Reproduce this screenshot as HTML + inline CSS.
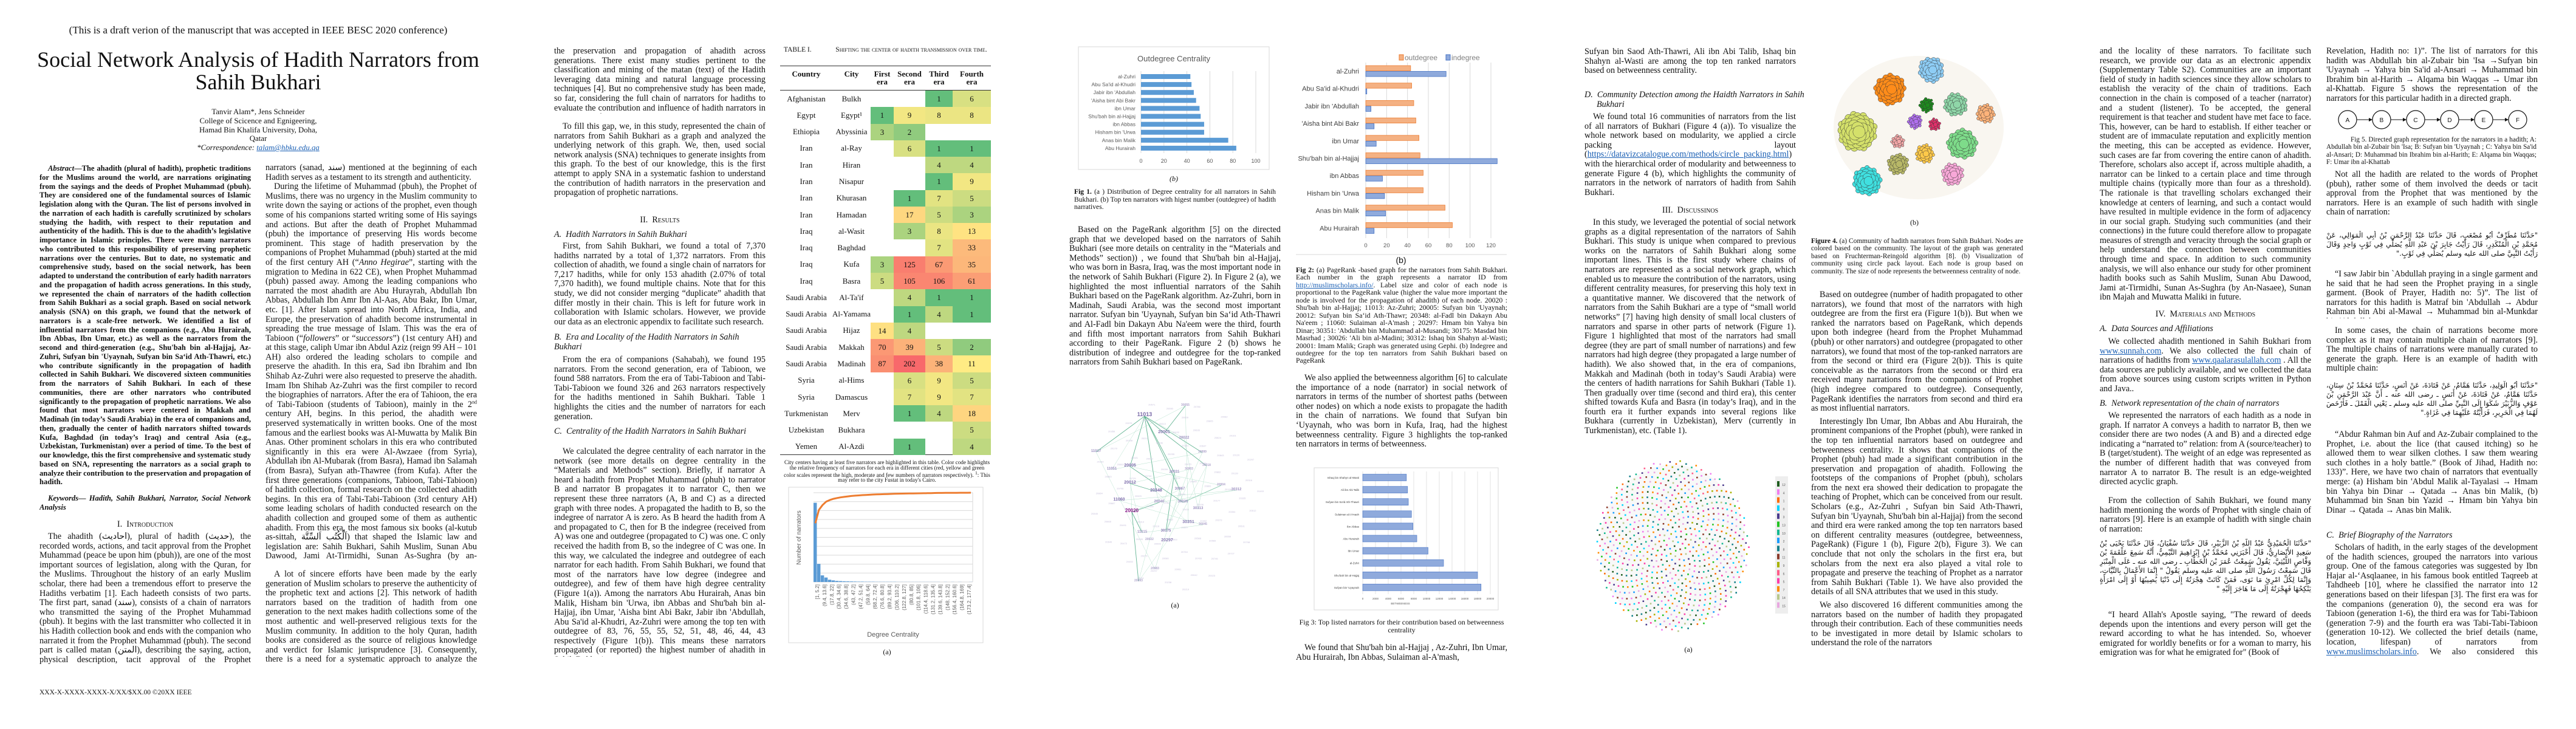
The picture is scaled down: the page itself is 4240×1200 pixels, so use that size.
<!DOCTYPE html>
<html><head><meta charset="utf-8">
<style>
html,body{margin:0;padding:0}
body{width:4240px;height:1200px;position:relative;overflow:hidden;background:#fff;color:#111;font-family:"Liberation Serif","DejaVu Sans",serif}
.t{position:absolute;font-size:14.2px;line-height:15.6px;text-align:justify;overflow:hidden;width:348px}
.t p{margin:0;text-indent:14px}
.cap{position:absolute;font-size:11.6px;line-height:12.5px;text-align:justify;overflow:hidden}
.h{position:absolute;font-size:14.2px;text-align:center;font-variant:small-caps;width:348px;line-height:16px}
.sub{position:absolute;font-size:14.2px;font-style:italic;line-height:15.6px;width:348px}
.ar{direction:rtl;font-family:"DejaVu Sans",sans-serif;font-size:11.5px;line-height:15px;text-align:justify}
a{color:#1a5fb4;text-decoration:underline}
.lbl{position:absolute;font-size:14px;text-align:center}
#tbl div{position:absolute;font-size:13px;text-align:center}
</style></head>
<body>

<!-- PAGE 1 -->
<div style="position:absolute;left:0;width:850px;top:40px;text-align:center;font-size:17px">(This is a draft verion of the manuscript that was accepted in IEEE BESC 2020 conference)</div>
<div style="position:absolute;left:20px;width:810px;top:80px;text-align:center;font-size:36px;line-height:37px">Social Network Analysis of Hadith Narrators from Sahih Bukhari</div>
<div style="position:absolute;left:275px;width:300px;top:177px;text-align:center;font-size:12.8px;line-height:14.8px">Tanvir Alam*, Jens Schneider<br>College of Scicence and Egnigeering,<br>Hamad Bin Khalifa University, Doha,<br>Qatar<br><i>*Correspondence: <a>talam@hbku.edu.qa</a></i></div>

<div class="t" style="left:65px;top:270px;height:530px;font-weight:bold;font-size:12.5px;line-height:14.75px"><p><i>Abstract</i>—The ahadith (plural of hadith), prophetic traditions for the Muslims around the world, are narrations originating from the sayings and the deeds of Prophet Muhammad (pbuh). They are considered one of the fundamental sources of Islamic legislation along with the Quran. The list of persons involved in the narration of each hadith is carefully scrutinized by scholars studying the hadith, with respect to their reputation and authenticity of the hadith. This is due to the ahadith’s legislative importance in Islamic principles. There were many narrators who contributed to this responsibility of preserving prophetic narrations over the centuries. But to date, no systematic and comprehensive study, based on the social network, has been adapted to understand the contribution of early hadith narrators and the propagation of hadith across generations. In this study, we represented the chain of narrators of the hadith collection from Sahih Bukhari as a social graph. Based on social network analysis (SNA) on this graph, we found that the network of narrators is a scale-free network. We identified a list of influential narrators from the companions (e.g., Abu Hurairah, Ibn Abbas, Ibn Umar, etc.) as well as the narrators from the second and third-generation (e.g., Shu'bah bin al-Hajjaj, Az-Zuhri, Sufyan bin 'Uyaynah, Sufyan bin Sa‘id Ath-Thawri, etc.) who contribute significantly in the propagation of hadith collected in Sahih Bukhari. We discovered sixteen communities from the narrators of Sahih Bukhari. In each of these communities, there are other narrators who contributed significantly to the propagation of prophetic narrations. We also found that most narrators were centered in Makkah and Madinah (in today’s Saudi Arabia) in the era of companions and, then, gradually the center of hadith narrators shifted towards Kufa, Baghdad (in today’s Iraq) and central Asia (e.g., Uzbekistan, Turkmenistan) over a period of time. To the best of our knowledge, this the first comprehensive and systematic study based on SNA, representing the narrators as a social graph to analyze their contribution to the preservation and propagation of hadith.</p></div>
<div class="t" style="left:65px;top:813px;height:32px;font-weight:bold;font-style:italic;font-size:12.5px;line-height:15px"><p>Keywords— Hadith, Sahih Bukhari, Narrator, Social Network Analysis</p></div>
<div class="h" style="left:65px;top:855px">I.&nbsp;&nbsp;Introduction</div>
<div class="t" style="left:65px;top:876px;height:218px"><p>The ahadith (أحاديث), plural of hadith (حديث), the recorded words, actions, and tacit approval from the Prophet Muhammad (peace be upon him (pbuh)), are one of the most important sources of legislation, along with the Quran, for the Muslims. Throughout the history of an early Muslim scholar, there had been a tremendous effort to preserve the Hadiths verbatim [1]. Each hadeeth consists of two parts. The first part, sanad (سند), consists of a chain of narrators who transmitted the saying of the Prophet Muhammad (pbuh). It begins with the last transmitter who collected it in his Hadith collection book and ends with the companion who narrated it from the Prophet Muhammad (pbuh). The second part is called matan (المتن), describing the saying, action, physical description, tacit approval of the Prophet Muhammad (pbuh). The chain of narrators and so on and so forth here.</p></div>
<div style="position:absolute;left:65px;top:1134px;font-size:11.5px">XXX-X-XXXX-XXXX-X/XX/$XX.00 ©20XX IEEE</div>

<div class="t" style="left:437px;top:269px;height:656px"><p style="text-indent:0">narrators (sanad, سند) mentioned at the beginning of each Hadith serves as a testament to its strength and authenticity.</p><p>During the lifetime of Muhammad (pbuh), the Prophet of Muslims, there was no urgency in the Muslim community to write down the saying or actions of the prophet, even though some of his companions started writing some of His sayings and actions. But after the death of Prophet Muhammad (pbuh) the importance of preserving His words become prominent. This stage of hadith preservation by the companions of Prophet Muhammad (pbuh) started at the mid of the first century AH (“<i>Anno Hegirae</i>”, starting with the migration to Medina in 622 CE), when Prophet Muhammad (pbuh) passed away. Among the leading companions who narrated the most ahadith are Abu Hurayrah, Abdullah Ibn Abbas, Abdullah Ibn Amr Ibn Al-Aas, Abu Bakr, Ibn Umar, etc. [1]. After Islam spread into North Africa, India, and Europe, the preservation of ahadith become instrumental in spreading the true message of Islam. This was the era of Tabioon (“<i>followers</i>” or “<i>successors</i>”) (1st century AH) and at this stage, caliph Umar ibn Abdul Aziz (reign 99 AH – 101 AH) also ordered the leading scholars to compile and preserve the ahadith. In this era, Sad ibn Ibrahim and Ibn Shihab Az-Zuhri were also requested to preserve the ahadith. Imam Ibn Shihab Az-Zuhri was the first compiler to record the biographies of narrators. After the era of Tahioon, the era of Tabi-Tabioon (students of Tabioon), mainly in the 2<sup style="font-size:8px;line-height:0">nd</sup> century AH, begins. In this period, the ahadith were preserved systematically in written books. One of the most famous and the earliest books was Al-Muwatta by Malik Bin Anas. Other prominent scholars in this era who contributed significantly in this era were Al-Awzaee (from Syria), Abdullah ibn Al-Mubarak (from Basra), Hamad ibn Salamah (from Basra), Sufyan ath-Thawree (from Kufa). After the first three generations (companions, Tabioon, Tabi-Tabioon) of hadith collection, formal research on the collected ahadith begins. In this era of Tabi-Tabi-Tabioon (3rd century AH) some leading scholars of hadith conducted research on the ahadith collection and grouped some of them as authentic ahadith. From this era, the most famous six books (al-kutub as-sittah, اَلْكُتُب اَلسِّتَّة) that shaped the Islamic law and legislation are: Sahih Bukhari, Sahih Muslim, Sunan Abu Dawood, Jami At-Tirmidhi, Sunan As-Sughra (by an-Nasaee), and either Ibn-Majah or Muwatta Malik.</p></div>
<div class="t" style="left:437px;top:938px;height:156px"><p>A lot of sincere efforts have been made by the early generation of Muslim scholars to preserve the authenticity of the prophetic text and actions [2]. This network of hadith narrators based on the tradition of hadith from one generation to the next makes hadith collections some of the most authentic and well-preserved religious texts for the Muslim community. In addition to the holy Quran, hadith books are considered as the source of religious knowledge and verdict for Islamic jurisprudence [3]. Consequently, there is a need for a systematic approach to analyze the contribution of scholars in</p></div>

<!-- PAGE 2 -->
<div class="t" style="left:912px;top:77px;height:110px"><p style="text-indent:0">the preservation and propagation of ahadith across generations. There exist many studies pertinent to the classification and mining of the matan (text) of the Hadith leveraging data mining and natural language processing techniques [4]. But no comprehensive study has been made, so far, considering the full chain of narrators for hadiths to evaluate the contribution and influence of hadith narrators in a systematic fashion.</p></div>
<div class="t" style="left:912px;top:201px;height:126px"><p>To fill this gap, we, in this study, represented the chain of narrators from Sahih Bukhari as a graph and analyzed the underlying network of this graph. We, then, used social network analysis (SNA) techniques to generate insights from this graph. To the best of our knowledge, this is the first attempt to apply SNA in a systematic fashion to understand the contribution of hadith narrators in the preservation and propagation of prophetic narrations.</p></div>
<div class="h" style="left:912px;top:354px">II.&nbsp;&nbsp;Results</div>
<div class="sub" style="left:912px;top:379px">A.&nbsp; Hadith Narrators in Sahih Bukhari</div>
<div class="t" style="left:912px;top:398px;height:142px"><p>First, from Sahih Bukhari, we found a total of 7,370 hadiths narrated by a total of 1,372 narrators. From this collection of ahadith, we found a single chain of narrators for 7,217 hadiths, while for only 153 ahadith (2.07% of total 7,370 hadith), we found multiple chains. Note that for this study, we did not consider merging “duplicate” ahadith that differ mostly in their chain. This is left for future work in collaboration with Islamic scholars. However, we provide our data as an electronic appendix to facilitate such research.</p></div>
<div class="sub" style="left:912px;top:548px">B.&nbsp; Era and Locality of the Hadith Narrators in Sahih Bukhari</div>
<div class="t" style="left:912px;top:585px;height:110px"><p>From the era of companions (Sahabah), we found 195 narrators. From the second generation, era of Tabioon, we found 588 narrators. From the era of Tabi-Tabioon and Tabi-Tabi-Tabioon we found 326 and 263 narrators respectively for the hadiths mentioned in Sahih Bukhari. Table 1 highlights the cities and the number of narrators for each generation.</p></div>
<div class="sub" style="left:912px;top:703px">C.&nbsp; Centrality of the Hadith Narrators in Sahih Bukhari</div>
<div class="t" style="left:912px;top:736px;height:345px"><p>We calculated the degree centrality of each narrator in the network (see more details on degree centrality in the “Materials and Methods” section). Briefly, if narrator A heard a hadith from Prophet Muhammad (phuh) to narrator B and narrator B propagates it to narrator C, then we represent these three narrators (A, B and C) as a directed graph with three nodes. A propagated the hadith to B, so the indegree of narrator A is zero. As B heard the hadith from A and propagated to C, then for B the indegree (received from A) was one and outdegree (propagated to C) was one. C only received the hadith from B, so the indegree of C was one. In this way, we calculated the indegree and outdegree of each narrator for each hadith. From Sahih Bukhari, we found that most of the narrators have low degree (indegree and outdegree), and few of them have high degree centrality (Figure 1(a)). Among the narrators Abu Hurairah, Anas bin Malik, Hisham bin 'Urwa, ibn Abbas and Shu'bah bin al-Hajjaj, ibn Umar, 'Aisha bint Abi Bakr, Jabir ibn 'Abdullah, Abu Sa'id al-Khudri, Az-Zuhri were among the top ten with outdegree of 83, 76, 55, 55, 52, 51, 48, 46, 44, 43 respectively (Figure 1(b)). This means these narrators propagated (or reported) the highest number of ahadith in Sahih Bukhari.</p></div>

<div style="position:absolute;left:1290px;top:76px;width:340px;font-size:11.5px;line-height:12px"><span style="position:absolute;left:0">TABLE I.</span><span style="position:absolute;left:80px;width:260px;text-align:center;font-variant:small-caps">Shifting the center of hadith transmission over time.</span></div>
<div id="tbl"></div>
<div style="position:absolute;left:1290px;top:757px;width:340px;font-size:9.2px;line-height:8.8px;text-align:center">City centers having at least five narrators are highlighted in this table. Color code highlights the relative frequency of narrators for each era in different cities (red, yellow and green color scales represent the high, moderate and few numbers of narrators respectively). <sup>1</sup>: This may refer to the city Fustat in today's Cairo.</div>
<div class="lbl" style="left:1440px;top:1066px;width:40px;font-size:12px">(a)</div>

<!-- PAGE 3 -->
<div class="lbl" style="left:1912px;top:287px;width:40px;font-size:12px;font-style:italic">(b)</div>
<div class="cap" style="left:1768px;top:310px;width:332px"><b>Fig 1.</b> (a ) Distribution of Degree centrality for all narrators in Sahih Bukhari. (b) Top ten narrators with higest number (outdegree) of hadith narratives.</div>
<div class="t" style="left:1760px;top:371px;height:234px"><p>Based on the PageRank algorithm [5] on the directed graph that we developed based on the narrators of Sahih Bukhari (see more details on centrality in the “Materials and Methods” section)) , we found that Shu'bah bin al-Hajjaj, who was born in Basra, Iraq, was the most important node in the network of Sahih Bukhari (Figure 2). In Figure 2 (a), we highlighted the most influential narrators of the Sahih Bukhari based on the PageRank algorithm. Az-Zuhri, born in Madinah, Saudi Arabia, was the second most important narrator. Sufyan bin 'Uyaynah, Sufyan bin Sa‘id Ath-Thawri and Al-Fadl bin Dakayn Abu Na'eem were the third, fourth and fifth most important narrators from Sahih Bukhari according to their PageRank. Figure 2 (b) shows he distribution of indegree and outdegree for the top-ranked narrators from Sahih Bukhari based on PageRank.</p></div>
<div class="lbl" style="left:1914px;top:989px;width:40px;font-size:12px">(a)</div>

<div class="lbl" style="left:2286px;top:420px;width:40px;font-size:14px;font-family:'Liberation Sans',sans-serif">(b)</div>
<div class="cap" style="left:2133px;top:438px;width:348px;font-size:11.8px;line-height:12.45px"><b>Fig 2:</b> (a) PageRank -based graph for the narrators from Sahih Bukhari. Each number in the graph represents a narrator ID from <a>http://muslimscholars.info/</a>. Label size and color of each node is proportional to the PageRank value (higher the value more important the node is involved for the propagation of ahadith) of each node. 20020 : Shu'bah bin al-Hajjaj; 11013: Az-Zuhri; 20005: Sufyan bin 'Uyaynah; 20012: Sufyan bin Sa‘id Ath-Thawr; 20348: al-Fadl bin Dakayn Abu Na'eem ; 11060: Sulaiman al-A'mash ; 20297: Hmam bin Yahya bin Dinar; 30351: 'Abdullah bin Muhammad al-Musandi; 30175: Masdad bin Masrhad ; 30026: 'Ali bin al-Madini; 30312: Ishaq bin Shahyn al-Wasti; 20001: Imam Malik; Graph was generated using Gephi. (b) Indegree and outdegree for the top ten narrators from Sahih Bukhari based on PageRank</div>
<div class="t" style="left:2133px;top:615px;height:126px"><p>We also applied the betweenness algorithm [6] to calculate the importance of a node (narrator) in social network of narrators in terms of the number of shortest paths (between other nodes) on which a node exists to propagate the hadith in the chain of narrations. We found that Sufyan bin ‘Uyaynah, who was born in Kufa, Iraq, had the highest betweenness centrality. Figure 3 highlights the top-ranked ten narrators in terms of betweenness.</p></div>
<div class="cap" style="left:2133px;top:1018px;width:348px;text-align:center;font-size:12px;line-height:13px">Fig 3: Top listed narrators for their contribution based on betweenness centrality</div>
<div class="t" style="left:2133px;top:1059px;height:32px"><p>We found that Shu'bah bin al-Hajjaj , Az-Zuhri, Ibn Umar, Abu Hurairah, Ibn Abbas, Sulaiman al-A'mash,</p></div>

<!-- PAGE 4 -->
<div class="t" style="left:2608px;top:78px;height:48px"><p style="text-indent:0">Sufyan bin Saod Ath-Thawri, Ali ibn Abi Talib, Ishaq bin Shahyn al-Wasti are among the top ten ranked narrators based on betweenness centrality.</p></div>
<div class="sub" style="left:2608px;top:149px;padding-left:20px;text-indent:-20px">D.&nbsp; Community Detection among the Haidth Narrators in Sahih Bukhari</div>
<div class="t" style="left:2608px;top:185px;height:141px"><p>We found total 16 communities of narrators from the list of all narrators of Bukhari (Figure 4 (a)). To visualize the whole network based on modularity, we applied a circle packing layout (<a>https://datavizcatalogue.com/methods/circle_packing.html</a>) with the hierarchical order of modularity and betweenness to generate Figure 4 (b), which highlights the community of narrators in the network of narrators of hadith from Sahih Bukhari.</p></div>
<div class="h" style="left:2608px;top:338px">III.&nbsp;&nbsp;Discussinos</div>
<div class="t" style="left:2608px;top:359px;height:360px"><p>In this study, we leveraged the potential of social network graphs as a digital representation of the narrators of Sahih Bukhari. This study is unique when compared to previous works on the narrators of Sahih Bukhari along some important lines. This is the first study where chains of narrators are represented as a social network graph, which enabled us to measure the contribution of the narrators, using different centrality measures, for preserving this holy text in a quantitative manner. We discovered that the network of narrators from the Sahih Bukhari are a type of “small world networks” [7] having high density of small local clusters of narrators and sparse in other parts of network (Figure 1). Figure 1 highlighted that most of the narrators had small degree (they are part of small number of narrations) and few narrators had high degree (they propagated a large number of hadith). We also showed that, in the era of companions, Makkah and Madinah (both in today’s Saudi Arabia) were the centers of hadith narrations for Sahih Bukhari (Table 1). Then gradually over time (second and third era), this center shifted towards Kufa and Basra (in today’s Iraq), and in the fourth era it further expands into several regions like Bukhara (currently in Uzbekistan), Merv (currently in Turkmenistan), etc. (Table 1).</p></div>
<div class="lbl" style="left:2759px;top:1062px;width:40px;font-size:12px">(a)</div>

<div class="lbl" style="left:3131px;top:359px;width:40px;font-size:12px">(b)</div>
<div class="cap" style="left:2981px;top:391px;width:349px;font-size:11.4px;line-height:12.4px"><b>Figure 4.</b> (a) Community of hadith narrators from Sahih Bukhari. Nodes are colored based on the community. The layout of the graph was generated based on Fruchterman-Reingold algorithm [8]. (b) Visualization of community using circle pack layout. Each node is group based on community. The size of node represents the betweenness centrality of node.</div>
<div class="t" style="left:2981px;top:478px;height:610px"><p>Based on outdegree (number of hadith propagated to other narrators), we found that most of the narrators with high outdegree are from the first era (Figure 1(b)). But when we ranked the narrators based on PageRank, which depends upon both indegree (heard from the Prophet Muhammad (pbuh) or other narrators) and outdegree (propagated to other narrators), we found that most of the top-ranked narrators are from the second or third era (Figure 2(b)). This is quite conceivable as the narrators from the second or third era received many narrations from the companions of Prophet (high indegree compared to outdegree). Consequently, PageRank identifies the narrators from second and third era as most influential narrators.</p><p style="margin-top:6px">Interestingly Ibn Umar, Ibn Abbas and Abu Hurairah, the prominent companions of the Prophet (pbuh), were ranked in the top ten influential narrators based on outdegree and betweenness centrality. It shows that companions of the Prophet (pbuh) had made a significant contribution in the preservation and propagation of ahadith. Following the footsteps of the companions of Prophet (pbuh), scholars from the next era showed their dedication to propagate the teaching of Prophet, which can be conceived from our result. Scholars (e.g., Az-Zuhri , Sufyan bin Said Ath-Thawri, Sufyan bin 'Uyaynah, Shu'bah bin al-Hajjaj) from the second and third era were ranked among the top ten narrators based on different centrality measures (outdegree, betweenness, PageRank) (Figure 1 (b), Figure 2(b), Figure 3). We can conclude that not only the scholars in the first era, but scholars from the next era also played a vital role to propagate and preserve the teaching of Prophet as a narrator from Sahih Bukhari (Table 1). We have also provided the details of all SNA attributes that we used in this study.</p><p style="margin-top:6px">We also discovered 16 different communities among the narrators based on the number of hadith they propagated through their contribution. Each of these communities needs to be investigated in more detail by Islamic scholars to understand the role of the narrators</p></div>

<!-- PAGE 5 -->
<div class="t" style="left:3456px;top:77px;height:422px"><p style="text-indent:0">and the locality of these narrators. To facilitate such research, we provide our data as an electronic appendix (Supplementary Table S2). Communities are an important field of study in hadith sciences since they allow scholars to establish the veracity of the chain of traditions. Each connection in the chain is composed of a teacher (narrator) and a student (listener). To be accepted, the general requirement is that teacher and student have met face to face. This, however, can be hard to establish. If either teacher or student are of immaculate reputation and explicitly mention the meeting, this can be accepted as evidence. However, such cases are far from covering the entire canon of ahadith. Therefore, scholars also accept if, across multiple ahadith, a narrator can be linked to a certain place and time through multiple chains (typically more than four as a threshold). The rationale is that travelling scholars exchanged their knowledge at centers of learning, and such a contact would have resulted in multiple evidence in the form of adjacency in our social graph. Studying such communities (and their connections) in the future could therefore allow to propagate measures of strength and veracity through the social graph or help understand the connection between communities through time and space. In addition to such community analysis, we will also enhance our study for other prominent hadith books such as Sahih Muslim, Sunan Abu Dawood, Jami at-Tirmidhi, Sunan As-Sughra (by An-Nasaee), Sunan ibn Majah and Muwatta Maliki in future.</p></div>
<div class="h" style="left:3456px;top:509px">IV.&nbsp;&nbsp;Materials and Methods</div>
<div class="sub" style="left:3456px;top:534px">A.&nbsp; Data Sources and Affiliations</div>
<div class="t" style="left:3456px;top:555px;height:95px"><p>We collected ahadith mentioned in Sahih Bukhari from <a>www.sunnah.com</a>. We also collected the full chain of narrations of hadiths from <a>www.qaalarasulallah.com</a> . All the data sources are publicly available, and we collected the data from above sources using custom scripts written in Python and Java..</p></div>
<div class="sub" style="left:3456px;top:657px">B.&nbsp; Network representation of the chain of narrators</div>
<div class="t" style="left:3456px;top:677px;height:126px"><p>We represented the narrators of each hadith as a node in graph. If narrator A conveys a hadith to narrator B, then we consider there are two nodes (A and B) and a directed edge indicating a “narrated to” relation: from A (source/teacher) to B (target/student). The weight of an edge was represented as the number of different hadith that was conveyed from narrator A to narrator B. The result is an edge-weighted directed acyclic graph.</p></div>
<div class="t" style="left:3456px;top:817px;height:64px"><p>From the collection of Sahih Bukhari, we found many hadith mentioning the words of Prophet with single chain of narrators [9]. Here is an example of hadith with single chain of narration:</p></div>
<div class="t ar" style="left:3456px;top:887px;height:92px">"حَدَّثَنَا الْحُمَيْدِيُّ عَبْدُ اللَّهِ بْنُ الزُّبَيْرِ، قَالَ حَدَّثَنَا سُفْيَانُ، قَالَ حَدَّثَنَا يَحْيَى بْنُ سَعِيدٍ الأَنْصَارِيُّ، قَالَ أَخْبَرَنِي مُحَمَّدُ بْنُ إِبْرَاهِيمَ التَّيْمِيُّ، أَنَّهُ سَمِعَ عَلْقَمَةَ بْنَ وَقَّاصٍ اللَّيْثِيَّ، يَقُولُ سَمِعْتُ عُمَرَ بْنَ الْخَطَّابِ ـ رضى الله عنه ـ عَلَى الْمِنْبَرِ قَالَ سَمِعْتُ رَسُولَ اللَّهِ صلى الله عليه وسلم يَقُولُ " إِنَّمَا الأَعْمَالُ بِالنِّيَّاتِ، وَإِنَّمَا لِكُلِّ امْرِئٍ مَا نَوَى، فَمَنْ كَانَتْ هِجْرَتُهُ إِلَى دُنْيَا يُصِيبُهَا أَوْ إِلَى امْرَأَةٍ يَنْكِحُهَا فَهِجْرَتُهُ إِلَى مَا هَاجَرَ إِلَيْهِ "</div>
<div class="t" style="left:3456px;top:1005px;height:80px"><p>“I heard Allah's Apostle saying, "The reward of deeds depends upon the intentions and every person will get the reward according to what he has intended. So, whoever emigrated for worldly benefits or for a woman to marry, his emigration was for what he emigrated for" (Book of</p></div>

<div class="t" style="left:3829px;top:77px;height:110px"><p style="text-indent:0">Revelation, Hadith no: 1)”. The list of narrators for this hadith was Abdullah bin al-Zubair bin 'Isa →Sufyan bin 'Uyaynah → Yahya bin Sa'id al-Ansari → Muhammad bin Ibrahim bin al-Harith → Alqama bin Waqqas → Umar ibn al-Khattab. Figure 5 shows the representation of the narrators for this particular hadith in a directed graph.</p></div>
<div class="cap" style="left:3829px;top:224px;width:346px;font-size:11.2px;line-height:12.3px;text-indent:40px">Fig 5. Directed graph representation for the narrators in a hadith; A: Abdullah bin al-Zubair bin 'Isa; B: Sufyan bin 'Uyaynah ; C: Yahya bin Sa'id al-Ansari; D: Muhammad bin Ibrahim bin al-Harith; E: Alqama bin Waqqas; F: Umar ibn al-Khattab</div>
<div class="t" style="left:3829px;top:280px;height:80px"><p>Not all the hadith are related to the words of Prophet (pbuh), rather some of them involved the deeds or tacit approval from the Prophet that was mentioned by the narrators. Here is an example of such hadith with single chain of narration:</p></div>
<div class="t ar" style="left:3829px;top:380px;height:48px">"حَدَّثَنَا مُطَرِّفٌ أَبُو مُصْعَبٍ، قَالَ حَدَّثَنَا عَبْدُ الرَّحْمَنِ بْنُ أَبِي الْمَوَالِي، عَنْ مُحَمَّدِ بْنِ الْمُنْكَدِرِ، قَالَ رَأَيْتُ جَابِرَ بْنَ عَبْدِ اللَّهِ يُصَلِّي فِي ثَوْبٍ وَاحِدٍ وَقَالَ رَأَيْتُ النَّبِيَّ صلى الله عليه وسلم يُصَلِّي فِي ثَوْبٍ."</div>
<div class="t" style="left:3829px;top:444px;height:80px"><p>“I saw Jabir bin `Abdullah praying in a single garment and he said that he had seen the Prophet praying in a single garment. (Book of Prayer, Hadith no: 5)”. The list of narrators for this hadith is Matraf bin 'Abdullah → Abdur Rahman bin Abi al-Mawal → Muhammad bin al-Munkdar bin 'Abdullah</p></div>
<div class="t" style="left:3829px;top:537px;height:80px"><p>In some cases, the chain of narrations become more complex as it may contain multiple chain of narrators [9]. The multiple chains of narrations were manually curated to generate the graph. Here is an example of hadith with multiple chain:</p></div>
<div class="t ar" style="left:3829px;top:627px;height:64px">"حَدَّثَنَا أَبُو الْوَلِيدِ، حَدَّثَنَا هَمَّامٌ، عَنْ قَتَادَةَ، عَنْ أَنَسٍ، حَدَّثَنَا مُحَمَّدُ بْنُ سِنَانٍ، حَدَّثَنَا هَمَّامٌ، عَنْ قَتَادَةَ، عَنْ أَنَسٍ ـ رضى الله عنه ـ أَنَّ عَبْدَ الرَّحْمَنِ بْنَ عَوْفٍ وَالزُّبَيْرَ شَكَوَا إِلَى النَّبِيِّ صلى الله عليه وسلم ـ يَعْنِي الْقَمْلَ ـ فَأَرْخَصَ لَهُمَا فِي الْحَرِيرِ، فَرَأَيْتُهُ عَلَيْهِمَا فِي غَزَاةٍ."</div>
<div class="t" style="left:3829px;top:708px;height:142px"><p>“Abdur Rahman bin Auf and Az-Zubair complained to the Prophet, i.e. about the lice (that caused itching) so he allowed them to wear silken clothes. I saw them wearing such clothes in a holy battle.” (Book of Jihad, Hadith no: 133)”. Here, we have two chain of narrators that eventually merge: (a) Hisham bin 'Abdul Malik al-Tayalasi → Hmam bin Yahya bin Dinar → Qatada → Anas bin Malik, (b) Muhammad bin Snan bin Yazid → Hmam bin Yahya bin Dinar → Qatada → Anas bin Malik.</p></div>
<div class="sub" style="left:3829px;top:874px">C.&nbsp; Brief Biography of the Narrators</div>
<div class="t" style="left:3829px;top:894px;height:188px"><p>Scholars of hadith, in the early stages of the development of the hadith sciences, grouped the narrators into various group. One of the famous categories was suggested by Ibn Hajar al-‘Asqlaanee, in his famous book entitled Taqreeb at Tahdheeb [10], where he classified the narrator into 12 generations based on their lifespan [3]. The first era was for the companions (generation 0), the second era was for Tabioon (generation 1-6), the third era was for Tabi-Tabioon (generation 7-9) and the fourth era was Tabi-Tabi-Tabioon (generation 10-12). We collected the brief details (name, location, lifespan) of narrators from <a>www.muslimscholars.info</a>. We also considered this information</p></div>

<svg id="fig" width="4240" height="1200" style="position:absolute;left:0;top:0;pointer-events:none" xmlns="http://www.w3.org/2000/svg"></svg>

<script>
// ---------- Table I data ----------
const tblCountries = ["Afghanistan","Egypt","Ethiopia","Iran","Iran","Iran","Iran","Iran","Iraq","Iraq","Iraq","Iraq","Saudi Arabia","Saudi Arabia","Saudi Arabia","Saudi Arabia","Saudi Arabia","Syria","Syria","Turkmenistan","Uzbekistan","Yemen"];
const tblCities = ["Bulkh","Egypt¹","Abyssinia","al-Ray","Hiran","Nisapur","Khurasan","Hamadan","al-Wasit","Baghdad","Kufa","Basra","Al-Ta'if","Al-Yamama","Hijaz","Makkah","Madinah","al-Hims","Damascus","Merv","Bukhara","Al-Azdi"];
const eraFirst  = [null,1,3,null,null,null,null,null,null,null,3,5,null,null,14,70,87,null,null,null,null,null];
const eraSecond = [null,9,2,6,null,null,1,17,3,null,125,105,4,1,4,39,202,6,7,1,null,1];
const eraThird  = [1,8,null,1,4,1,7,5,8,7,67,106,1,4,null,5,38,9,9,4,null,null];
const eraFourth = [6,8,null,1,4,9,5,3,13,33,35,61,1,1,null,2,11,5,7,18,5,4];
const eraHeaders = ["First era","Second era","Third era","Fourth era"];

// ---------- Fig 1a data ----------
const degreeBinLabels = ["[1, 5.2]","(9.4, 13.6]","(17.8, 22]","(30.4, 34.6]","(34.6, 38.8]","(43, 47.2]","(47.2, 51.4]","(59.8, 64]","(68.2, 72.4]","(76.6, 80.8]","(89.2, 93.4]","(106, 110.2]","(122.8, 127]","(80.8, 85]","(101.8, 106]","(114.4, 118.6]","(131.2, 135.4]","(139.6, 143.8]","(148, 152.2]","(156.4, 160.6]","(164.8, 169]","(173.2, 177.4]"];
const degreeCounts = [887,203,74,50,25,18,12,10,8,7,6,5,4,4,3,3,3,2,2,2,2,2,2,1,1,1,1,1,1,1,1,1,1,1,1,0,1,0,1,0,1,0,0,1];
const degreeYTicks = [0,100,200,300,400,500,600,700,800,900,1000];

// ---------- Fig 1b data ----------
const outNarrators = ["al-Zuhri","Abu Sa'id al-Khudri","Jabir ibn 'Abdullah","'Aisha bint Abi Bakr","ibn Umar","Shu'bah bin al-Hajjaj","ibn Abbas","Hisham bin 'Urwa","Anas bin Malik","Abu Hurairah"];
const outDegree = [43,44,46,48,51,52,55,55,76,83];
const outTicks = [0,20,40,60,80,100];

// ---------- Fig 2b data ----------
const prNarrators = ["al-Zuhri","Abu Sa'id al-Khudri","Jabir ibn 'Abdullah","'Aisha bint Abi Bakr","ibn Umar","Shu'bah bin al-Hajjaj","ibn Abbas","Hisham bin 'Urwa","Anas bin Malik","Abu Hurairah"];
const prOutdegree = [43,44,46,48,51,52,55,55,76,83];
const prIndegree = [77,1,5,8,10,126,16,18,19,8];
const prTicks = [0,20,40,60,80,100,120];

// ---------- Fig 3 data ----------
const btwNarrators = ["Ishaq bin Shahyn al-Wasti","Ali ibn Abi Talib","Sufyan bin Sa'id Ath-Thawri","Sulaiman al-A'mash","Ibn Abbas","Abu Hurairah","Ibn Umar","al-Zuhri","Shu'bah bin al-Hajjaj","Sufyan bin 'Uyaynah"];
const btwValues = [6850,7030,7150,7640,7880,8480,10240,12670,18000,18550];
const btwTicks = [0,2000,4000,6000,8000,10000,12000,14000,16000,18000,20000];

const NS="http://www.w3.org/2000/svg";
const svg=document.getElementById('fig');
function mk(tag,attrs,parent){const e=document.createElementNS(NS,tag);for(const k in attrs)e.setAttribute(k,attrs[k]);(parent||svg).appendChild(e);return e;}
function txt(x,y,s,attrs,parent){const e=mk('text',Object.assign({x:x,y:y},attrs||{}),parent);e.textContent=s;return e;}
function linScale(d0,d1,r0,r1){return v=>r0+(v-d0)/(d1-d0)*(r1-r0);}

// ---------- Table ----------
(function(){
  const tb=document.getElementById('tbl');
  function div(l,t,w,h,html,style){const d=document.createElement('div');d.style.left=l+'px';d.style.top=t+'px';d.style.width=w+'px';if(h)d.style.height=h+'px';d.innerHTML=html;if(style)d.style.cssText+=style;tb.appendChild(d);return d;}
  const x0=1284,x1=1631;
  const cols=[[1284,1370],[1370,1433],[1433,1471],[1471,1523],[1523,1568],[1568,1631]];
  let r=div(x0,108,x1-x0,0,'','border-top:1.5px solid #333');
  r=div(x0,148,x1-x0,0,'','border-top:1.5px solid #333');
  r=div(x0,748,x1-x0,0,'','border-top:1.5px solid #333');
  const hd=["Country","City"].concat(eraHeaders.map(s=>s.replace(' ','<br>')));
  hd.forEach((h,i)=>{const d=div(cols[i][0],115,cols[i][1]-cols[i][0],0,h,'font-weight:bold;line-height:13px');
    
    });
  function color(v){
    const t=Math.log(v)/Math.log(202);
    const g=[99,190,123],y=[255,235,132],rd=[248,105,107];
    let a,b,u;
    if(t<0.45){a=g;b=y;u=t/0.45;}else{a=y;b=rd;u=(t-0.45)/0.55;}
    return 'rgb('+a.map((c,i)=>Math.round(c+(b[i]-c)*u)).join(',')+')';
  }
  const rh=600/tblCountries.length;
  const eras=[eraFirst,eraSecond,eraThird,eraFourth];
  tblCountries.forEach((c,i)=>{
    const top=149+i*rh;
    const dc=div(cols[0][0],top+rh/2-8,cols[0][1]-cols[0][0],0,c);
    
    
    const dy=div(cols[1][0],top+rh/2-8,cols[1][1]-cols[1][0],0,tblCities[i]);
    
    
    eras.forEach((arr,j)=>{
      const v=arr[i]; if(v==null)return;
      const d=div(cols[j+2][0],top,cols[j+2][1]-cols[j+2][0],rh,v,'line-height:'+rh+'px;background:'+color(v));
      
      
    });
  });
})();

// ---------- Fig 1a: degree histogram ----------
(function(){
  const g=mk('g',{});
  
  
  mk('rect',{x:1298,y:802,width:320,height:256,fill:'#fff',stroke:'#d9d9d9'},g);
  const L=1339,R=1601,T=811,B=958;
  const y=linScale(0,degreeYTicks[degreeYTicks.length-1],B,T);
  degreeYTicks.forEach(v=>{const l=mk('line',{x1:L,x2:R,y1:y(v),y2:y(v),stroke:'#d9d9d9','stroke-width':1},g);});
  mk('line',{x1:R,x2:R,y1:T,y2:B,stroke:'#d9d9d9'},g);
  const n=degreeCounts.length, bw=(R-L)/n;
  degreeCounts.forEach((v,i)=>{
    const b=mk('rect',{x:L+i*bw,y:y(v),width:bw-0.5,height:B-y(v),fill:'#5b9bd5'},g);
    
    
  });
  const total=degreeCounts.reduce((a,b)=>a+b,0);
  const yp=linScale(0,100,B,T);
  let cum=0,pts=[];
  degreeCounts.forEach((v,i)=>{cum+=v;pts.push((L+i*bw+bw/2).toFixed(1)+','+yp(cum/total*100).toFixed(1));});
  const pl=mk('polyline',{points:pts.join(' '),fill:'none',stroke:'#ed7d31','stroke-width':3,'stroke-linejoin':'round'},g);
  
  
  degreeBinLabels.forEach((s,i)=>{
    const x=L+(2*i)*bw+bw;
    const t=txt(x+3,962,s,{'font-family':'Liberation Sans, sans-serif','font-size':8,fill:'#595959','text-anchor':'end',transform:'rotate(-90 '+(x+3)+' 962)'},g);
    
    
  });
  const yt=txt(1318,885,'Number of narrators',{'font-family':'Liberation Sans, sans-serif','font-size':10,fill:'#595959','text-anchor':'middle',transform:'rotate(-90 1318 885)'},g);
  
  
  const xt=txt(1470,1048,'Degree Centrality',{'font-family':'Liberation Sans, sans-serif','font-size':11,fill:'#595959','text-anchor':'middle'},g);
  
  
})();

// ---------- Fig 1b: outdegree centrality ----------
(function(){
  const g=mk('g',{});
  
  
  mk('rect',{x:1775,y:77,width:314,height:202,fill:'#fff',stroke:'#d9d9d9'},g);
  const t=txt(1932,101,'Outdegree Centrality',{'font-family':'Liberation Sans, sans-serif','font-size':13,fill:'#595959','text-anchor':'middle'},g);
  
  
  const x=linScale(0,100,1878,2067);
  outTicks.forEach(v=>{mk('line',{x1:x(v),x2:x(v),y1:117,y2:252,stroke:'#d9d9d9'},g);
    const tl=txt(x(v),268,String(v),{'font-family':'Liberation Sans, sans-serif','font-size':9,fill:'#595959','text-anchor':'middle'},g);
    
    });
  outNarrators.forEach((nm,i)=>{
    const cy=126+i*13.1;
    const b=mk('rect',{x:x(0),y:cy-4,width:x(outDegree[i])-x(0),height:8,fill:'#5b9bd5'},g);
    
    
    const l=txt(1869,cy+3,nm,{'font-family':'Liberation Sans, sans-serif','font-size':8.5,fill:'#595959','text-anchor':'end'},g);
    
    
  });
})();

// ---------- Fig 2a: PageRank network (illustration) ----------
(function(){
  const g=mk('g',{});
  
  
  const nodes=[["11013",1884,685,9,'#7a6aa8'],["30055",1951,668,5,'#b0a6cc'],["20001",1916,713,7,'#8a7cb4'],["20022",1949,722,6,'#9c90c0'],["11017",1804,744,6,'#9c90c0'],["20005",1860,768,7,'#7e6eac'],["11051",1830,773,6,'#9c90c0'],["20031",1933,778,6,'#9c90c0'],["20012",1860,796,7,'#7e6eac'],["20348",1903,809,7,'#7e6eac'],["30967",1942,806,6,'#9c90c0'],["30312",2035,807,6,'#9c90c0'],["11060",1842,824,7,'#7e6eac'],["20040",1908,827,6,'#9c90c0'],["30026",1947,827,6,'#9c90c0'],["20020",1863,843,8,'#8b1a8b'],["30313",1972,838,6,'#9c90c0'],["30351",1956,861,7,'#8a7cb4'],["30175",1919,875,6,'#8a7cb4'],["11015",1880,877,6,'#a89ec8'],["20297",1921,891,7,'#8a7cb4'],["20022",1892,889,5,'#b0a6cc'],["20093",1874,957,5,'#b0a6cc'],["30999",1979,745,5,'#b0a6cc'],["30018",1986,767,5,'#b0a6cc'],["20904",2010,799,5,'#b0a6cc'],["30045",1980,864,5,'#b0a6cc'],["20983",1901,937,5,'#b0a6cc'],["30903",1957,773,5,'#b0a6cc']];
  const edges=[[0,9],[0,10],[0,23],[0,2],[0,7],[1,2],[8,9],[5,14],[15,13],[15,19],[7,18],[0,5],[0,4],[15,22],[2,24],[25,14]];
  edges.forEach(e=>{const a=nodes[e[0]],b=nodes[e[1]];mk('line',{x1:a[1],y1:a[2],x2:b[1],y2:b[2],stroke:'#3fa37a','stroke-width':0.9,opacity:0.8},g);});
  for(let i=0;i<60;i++){const a=nodes[(i*7)%nodes.length],b=nodes[(i*11+3)%nodes.length];mk('line',{x1:a[1],y1:a[2],x2:b[1],y2:b[2],stroke:'#a8dcc4','stroke-width':0.5,opacity:0.5},g);}
  for(let i=0;i<90;i++){const ang=i*2.39996,r=Math.sqrt((i+0.5)/90);const x=1935+r*140*Math.cos(ang),y=815+r*160*Math.sin(ang);
    txt(x,y,String(20000+((i*137)%900)),{'font-family':'Liberation Sans, sans-serif','font-size':4,fill:'#c8c2dc','text-anchor':'middle'},g);}
  nodes.forEach(n=>{const t=txt(n[1],n[2],n[0],{'font-family':'Liberation Sans, sans-serif','font-size':n[3],'font-weight':'bold',fill:n[4],'text-anchor':'middle'},g);
    
    });
})();

// ---------- Fig 2b: outdegree vs indegree ----------
(function(){
  const g=mk('g',{});
  
  
  const x=linScale(0,120,2248,2454);
  prTicks.forEach(v=>{mk('line',{x1:x(v),x2:x(v),y1:103,y2:392,stroke:'#d9d9d9'},g);
    const tl=txt(x(v),407,String(v),{'font-family':'Liberation Sans, sans-serif','font-size':9.5,fill:'#595959','text-anchor':'middle'},g);
    
    });
  mk('line',{x1:2133,x2:2480,y1:419,y2:419,stroke:'#d9d9d9'},g);
  const lg1=mk('rect',{x:2303,y:90,width:7,height:9,fill:'#f4b183',stroke:'#ed7d31'},g);
  
  
  const lt1=txt(2312,99,'outdegree',{'font-family':'Liberation Sans, sans-serif','font-size':12,fill:'#7f7f7f'},g);
  
  
  const lg2=mk('rect',{x:2380,y:90,width:7,height:9,fill:'#8faadc',stroke:'#4472c4'},g);
  
  
  const lt2=txt(2389,99,'indegree',{'font-family':'Liberation Sans, sans-serif','font-size':12,fill:'#7f7f7f'},g);
  
  
  prNarrators.forEach((nm,i)=>{
    const cy=117+i*28.7;
    const b1=mk('rect',{x:x(0),y:cy-9,width:x(prOutdegree[i])-x(0),height:8.5,fill:'#f4b183',stroke:'#ed7d31','stroke-width':0.8},g);
    
    
    const b2=mk('rect',{x:x(0),y:cy+0.5,width:x(prIndegree[i])-x(0),height:8.5,fill:'#8faadc',stroke:'#4472c4','stroke-width':0.8},g);
    
    
    const l=txt(2237,cy+4,nm,{'font-family':'Liberation Sans, sans-serif','font-size':11,fill:'#404040','text-anchor':'end'},g);
    
    
  });
})();

// ---------- Fig 3: betweenness ----------
(function(){
  const g=mk('g',{});
  
  
  mk('rect',{x:2163,y:770,width:303,height:234,fill:'#fff',stroke:'#d9d9d9'},g);
  const x=linScale(0,20000,2243,2453);
  btwTicks.forEach(v=>{mk('line',{x1:x(v),x2:x(v),y1:776,y2:978,stroke:'#e3e3e3'},g);
    const tl=txt(x(v),987,String(v),{'font-family':'Liberation Sans, sans-serif','font-size':4.5,fill:'#595959','text-anchor':'middle'},g);
    
    });
  const at=txt(2305,995,'BETWEENESS',{'font-family':'Liberation Sans, sans-serif','font-size':4.5,fill:'#595959','text-anchor':'middle'},g);
  
  
  btwNarrators.forEach((nm,i)=>{
    const cy=786+i*20.1;
    const b=mk('rect',{x:x(0),y:cy-5.5,width:x(btwValues[i])-x(0),height:11,fill:'#8faadc',stroke:'#4472c4','stroke-width':0.6},g);
    
    
    const l=txt(2237,cy+2,nm,{'font-family':'Liberation Sans, sans-serif','font-size':4.5,fill:'#404040','text-anchor':'end'},g);
    
    
  });
})();

// ---------- Fig 4a: community scatter (illustration) ----------
(function(){
  const g=mk('g',{});
  
  
  const pal=['#1f5c1f','#f07ef0','#ff6a00','#00d4ff','#4b3b8c','#22c422','#14b890','#1a9cff','#15808a','#8b3a2a','#a8b300','#ff5c8a','#ff3caa','#ff8c00','#b8c88a','#e8a8e0'];
  mk('ellipse',{cx:2753,cy:899,rx:120,ry:134,fill:'#f3f3f3',opacity:0.6},g);
  for(let i=0;i<760;i++){const a=i*2.39996,r=Math.sqrt((i+0.5)/760);
    mk('rect',{x:2753+r*126*Math.cos(a)-1.3,y:899+r*141*Math.sin(a)-1.3,width:2.6,height:2.6,fill:pal[(i*7+(i>>3))%16]},g);}
  mk('rect',{x:2922,y:784,width:21,height:226,fill:'#eeeeee'},g);
  ['12','4','1','0','3','13','10','2','8','11','9','6','5','7','14','15'].forEach((s,i)=>{
    const sq=mk('rect',{x:2925,y:792+i*13.3,width:4,height:9,fill:pal[i]},g);
    
    
    const lt=txt(2936,800+i*13.3,s,{'font-family':'Liberation Sans, sans-serif','font-size':5,fill:'#555','text-anchor':'middle'},g);
    
    
  });
})();

// ---------- Fig 4b: circle packing (illustration) ----------
(function(){
  const g=mk('g',{});
  
  
  mk('ellipse',{cx:3158,cy:210,rx:140,ry:118,fill:'#f6f2ea',opacity:0.7},g);
  const cl=[[3179,115,24,'#8ecdf5'],[3111,147,29,'#ff8c1a'],[3171,173,14,'#1e8a1e'],[3219,172,22,'#8fd6a8'],[3268,187,18,'#ffb37a'],[3057,217,36,'#d4e06a'],[3152,200,14,'#b070ee'],[3184,205,12,'#e0306a'],[3124,233,13,'#f4a8a8'],[3168,253,18,'#ffc94a'],[3230,237,28,'#7edc8a'],[3124,270,20,'#b8b868'],[3073,298,27,'#40e0e0'],[3214,287,21,'#f8a8d8']];
  cl.forEach(c=>{
    const cg=mk('g',{},g);
    
    
    const n=Math.round(c[2]*1.4);
    for(let i=n-1;i>=0;i--){const a=i*2.39996,r=Math.sqrt((i+0.5)/n)*c[2]*0.82;
      const rr=c[2]*(0.28-0.14*i/n);
      mk('circle',{cx:c[0]+r*Math.cos(a),cy:c[1]+r*Math.sin(a),r:rr,fill:c[3],stroke:'#333','stroke-width':0.5},cg);}
  });
})();

// ---------- Fig 5: chain graph ----------
(function(){
  const g=mk('g',{});
  
  
  const lbls=['A','B','C','D','E','F'];
  lbls.forEach((s,i)=>{
    const cx=3864+i*56;
    if(i<5){mk('line',{x1:cx+15,y1:197,x2:cx+38,y2:197,stroke:'#111','stroke-width':1},g);
      mk('path',{d:'M'+(cx+41)+' 197 L'+(cx+35)+' 194 L'+(cx+35)+' 200 Z',fill:'#111'},g);}
    const c=mk('circle',{cx:cx,cy:197,r:15,fill:'#fff',stroke:'#111','stroke-width':1.2},g);
    
    
    txt(cx,201,s,{'font-family':'Liberation Sans, sans-serif','font-size':10,fill:'#111','text-anchor':'middle'},g);
  });
})();
</script>
</body></html>
